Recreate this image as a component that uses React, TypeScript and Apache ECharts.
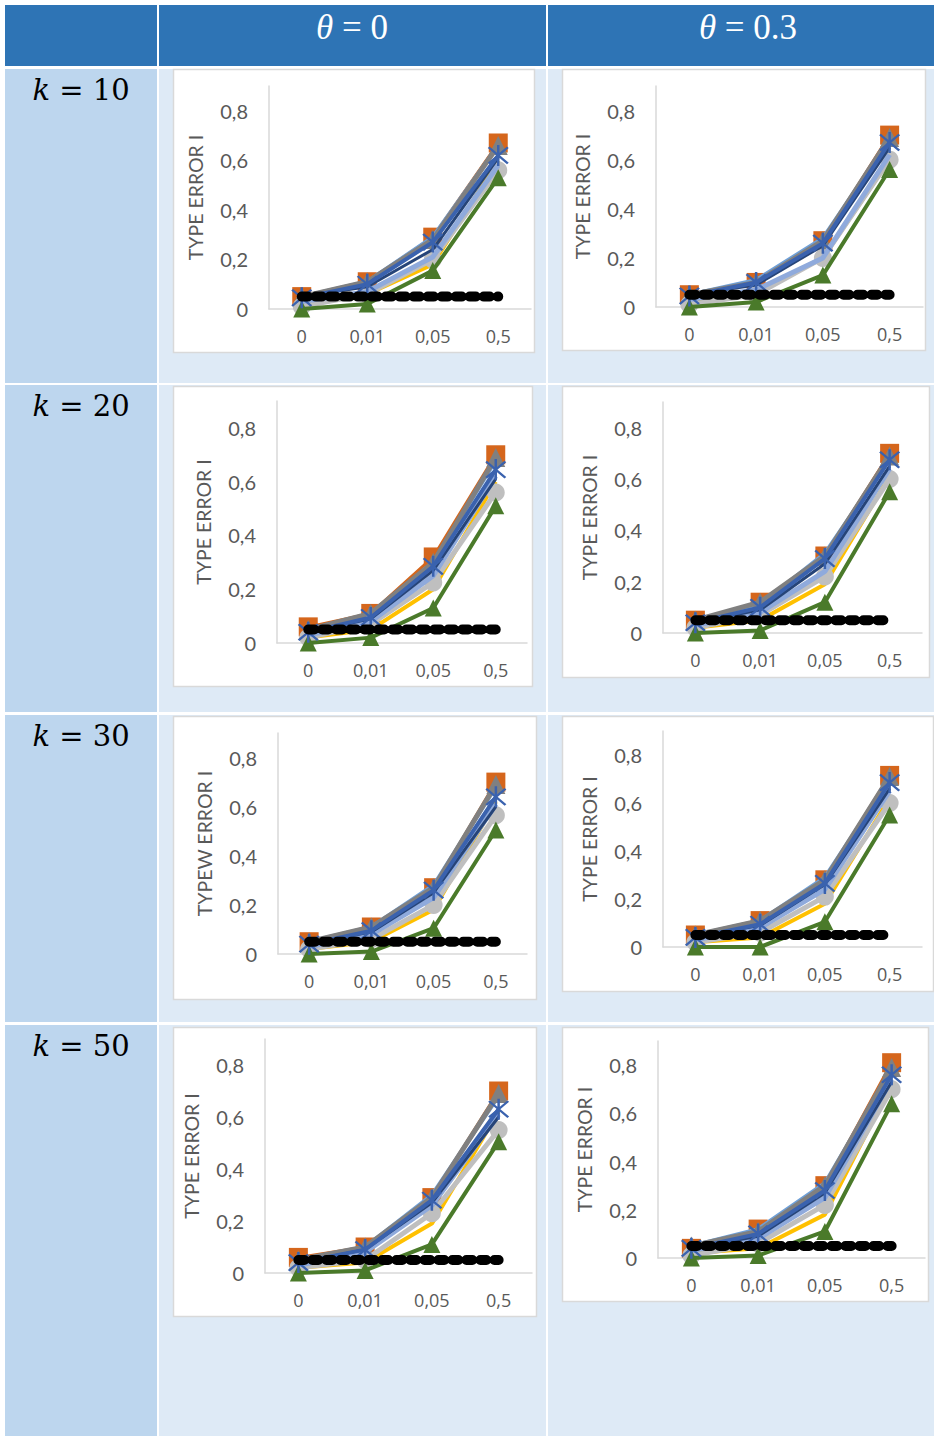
import React, { useEffect, useRef } from 'react';
import * as echarts from 'echarts';

// ---------- data ----------
const categories = ['0', '0,01', '0,05', '0,5'];
const seriesNames = ['Serie 1', 'Serie 2', 'Serie 3', 'Serie 4', 'Serie 5', 'Serie 6', 'Serie 7', 'Serie 8', 'Serie 9'];
const nominalLevel = [0.05, 0.05, 0.05, 0.05];
const thetaValues = ['0', '0.3'];
const kValues = ['10', '20', '30', '50'];
const axisTitles = ['TYPE ERROR I', 'TYPE ERROR I', 'TYPE ERROR I', 'TYPE ERROR I', 'TYPEW ERROR I', 'TYPE ERROR I', 'TYPE ERROR I', 'TYPE ERROR I'];

const k10Theta0 = [
  [0.05, 0.11, 0.29, 0.67],
  [0.05, 0.11, 0.29, 0.66],
  [0.05, 0.11, 0.28, 0.66],
  [0.02, 0.06, 0.18, 0.6],
  [0.01, 0.06, 0.2, 0.56],
  [0.03, 0.07, 0.21, 0.58],
  [0.05, 0.09, 0.24, 0.61],
  [0.0, 0.02, 0.155, 0.53],
  [0.045, 0.1, 0.27, 0.62],
];
const k10Theta03 = [
  [0.05, 0.1, 0.27, 0.7],
  [0.05, 0.11, 0.28, 0.68],
  [0.05, 0.1, 0.27, 0.69],
  [0.02, 0.06, 0.2, 0.6],
  [0.01, 0.05, 0.2, 0.6],
  [0.03, 0.07, 0.2, 0.62],
  [0.05, 0.09, 0.25, 0.65],
  [0.0, 0.02, 0.13, 0.56],
  [0.045, 0.1, 0.26, 0.67],
];
const k20Theta0 = [
  [0.06, 0.11, 0.32, 0.7],
  [0.05, 0.1, 0.3, 0.68],
  [0.05, 0.11, 0.3, 0.69],
  [0.02, 0.05, 0.2, 0.6],
  [0.02, 0.07, 0.225, 0.56],
  [0.03, 0.08, 0.25, 0.62],
  [0.04, 0.09, 0.27, 0.61],
  [0.0, 0.02, 0.13, 0.51],
  [0.04, 0.095, 0.285, 0.645],
];
const k20Theta03 = [
  [0.05, 0.12, 0.3, 0.7],
  [0.05, 0.11, 0.31, 0.68],
  [0.05, 0.12, 0.3, 0.69],
  [0.02, 0.05, 0.19, 0.61],
  [0.02, 0.07, 0.22, 0.6],
  [0.03, 0.08, 0.24, 0.64],
  [0.04, 0.09, 0.27, 0.65],
  [0.0, 0.01, 0.12, 0.55],
  [0.04, 0.1, 0.29, 0.675],
];
const k30Theta0 = [
  [0.05, 0.11, 0.27, 0.7],
  [0.05, 0.11, 0.28, 0.68],
  [0.05, 0.11, 0.27, 0.69],
  [0.02, 0.05, 0.18, 0.62],
  [0.02, 0.06, 0.2, 0.565],
  [0.03, 0.08, 0.23, 0.61],
  [0.04, 0.09, 0.25, 0.6],
  [0.0, 0.01, 0.105, 0.505],
  [0.04, 0.095, 0.26, 0.64],
];
const k30Theta03 = [
  [0.05, 0.11, 0.28, 0.715],
  [0.05, 0.11, 0.29, 0.7],
  [0.05, 0.11, 0.28, 0.71],
  [0.02, 0.04, 0.18, 0.62],
  [0.02, 0.06, 0.21, 0.6],
  [0.03, 0.08, 0.24, 0.65],
  [0.04, 0.09, 0.26, 0.66],
  [0.0, 0.0, 0.105, 0.55],
  [0.04, 0.095, 0.265, 0.685],
];
const k50Theta0 = [
  [0.06, 0.1, 0.29, 0.7],
  [0.05, 0.1, 0.3, 0.68],
  [0.05, 0.1, 0.29, 0.69],
  [0.02, 0.04, 0.19, 0.62],
  [0.02, 0.05, 0.23, 0.55],
  [0.03, 0.08, 0.26, 0.61],
  [0.04, 0.09, 0.27, 0.6],
  [0.0, 0.01, 0.11, 0.505],
  [0.04, 0.09, 0.28, 0.63],
];
const k50Theta03 = [
  [0.04, 0.12, 0.3, 0.81],
  [0.05, 0.12, 0.31, 0.78],
  [0.05, 0.11, 0.3, 0.79],
  [0.02, 0.04, 0.18, 0.72],
  [0.01, 0.06, 0.22, 0.7],
  [0.03, 0.08, 0.25, 0.74],
  [0.04, 0.09, 0.27, 0.73],
  [0.0, 0.01, 0.11, 0.64],
  [0.04, 0.1, 0.28, 0.76],
];

const panelData = [k10Theta0, k10Theta03, k20Theta0, k20Theta03, k30Theta0, k30Theta03, k50Theta0, k50Theta03];

// ---------- layout / styles ----------
const STAR = 'path://M9 0H11V20H9Z M1.6 3L3 1.6L18.4 17L17 18.4Z M17 1.6L18.4 3L3 18.4L1.6 17Z';
const seriesStyles = [
  { color: '#D5661C', width: 3, symbol: 'rect', size: 19 },
  { color: '#6FA0D8', width: 4, symbol: 'none', size: 0 },
  { color: '#808080', width: 5, symbol: 'triangle', size: 19 },
  { color: '#FFC000', width: 4, symbol: 'none', size: 0 },
  { color: '#BFBFBF', width: 5, symbol: 'circle', size: 18 },
  { color: '#8FAADC', width: 5, symbol: 'none', size: 0 },
  { color: '#264478', width: 3, symbol: 'none', size: 0 },
  { color: '#4A7A2A', width: 4, symbol: 'triangle', size: 17 },
  { color: '#3A62AE', width: 4, symbol: STAR, size: 21 },
];

const panelBoxes = [
  [173, 69, 361, 283],
  [562, 69, 363, 281],
  [173, 386, 359, 300],
  [562, 386, 367, 291],
  [173, 716, 363, 283],
  [562, 716, 371, 275],
  [173, 1027, 363, 289],
  [562, 1027, 366, 274],
];
// [left, top(y=0.9), right, bottom(y=0)]
const panelGrids = [
  [269, 86, 531, 309],
  [656, 86, 923, 307],
  [277, 401, 527, 643],
  [663, 402, 922, 633],
  [278, 733, 527, 954],
  [663, 731, 922, 947],
  [265, 1039, 532, 1273],
  [658, 1041, 925, 1258],
];

const rowBands = [
  [69, 314],
  [385, 327],
  [715, 307],
  [1025, 411],
];

function fmtY(v: number) {
  if (Math.abs(v * 5 - Math.round(v * 5)) > 1e-6) return '';
  const r = Math.round(v * 10) / 10;
  return r === 0 ? '0' : r.toFixed(1).replace('.', ',');
}

function buildOption() {
  const graphics: any[] = [];
  graphics.push({ type: 'rect', z: -10, shape: { x: 5, y: 5, width: 152, height: 61 }, style: { fill: '#2E74B5' } });
  graphics.push({ type: 'rect', z: -10, shape: { x: 159, y: 5, width: 387, height: 61 }, style: { fill: '#2E74B5' } });
  graphics.push({ type: 'rect', z: -10, shape: { x: 548, y: 5, width: 386, height: 61 }, style: { fill: '#2E74B5' } });
  thetaValues.forEach((t, i) => {
    graphics.push({
      type: 'text', z: -5, x: i === 0 ? 352 : 748, y: 27,
      style: {
        text: '{i|θ} = ' + t,
        fill: '#FFFFFF', fontSize: 35, fontFamily: 'Liberation Serif',
        align: 'center', verticalAlign: 'middle',
        rich: { i: { fontStyle: 'italic', fontSize: 35, fontFamily: 'Liberation Serif', fill: '#FFFFFF' } },
      },
    });
  });
  rowBands.forEach(([y, h], r) => {
    graphics.push({ type: 'rect', z: -10, shape: { x: 5, y, width: 152, height: h }, style: { fill: '#BDD6EE' } });
    graphics.push({ type: 'rect', z: -10, shape: { x: 159, y, width: 387, height: h }, style: { fill: '#DEEAF6' } });
    graphics.push({ type: 'rect', z: -10, shape: { x: 548, y, width: 386, height: h }, style: { fill: '#DEEAF6' } });
    graphics.push({
      type: 'text', z: -5, x: 81, y: y + 21,
      style: {
        text: '{i|k} = ' + kValues[r],
        fill: '#000000', fontSize: 29, fontFamily: 'DejaVu Serif',
        align: 'center', verticalAlign: 'middle',
        rich: { i: { fontStyle: 'italic', fontSize: 29, fontFamily: 'DejaVu Serif', fill: '#000000' } },
      },
    });
  });
  panelBoxes.forEach(([x, y, w, h]) => {
    graphics.push({ type: 'rect', z: -6, shape: { x: x + 0.5, y: y + 0.5, width: w, height: h }, style: { fill: '#FFFFFF', stroke: '#D9D9D9', lineWidth: 1.5 } });
  });

  const grid: any[] = [];
  const xAxis: any[] = [];
  const yAxis: any[] = [];
  const series: any[] = [];
  panelGrids.forEach(([l, t, r, b], p) => {
    grid.push({ left: l, top: t, width: r - l, height: b - t, containLabel: false });
    xAxis.push({
      type: 'category', gridIndex: p, data: categories, boundaryGap: true,
      axisLine: { show: true, lineStyle: { color: '#D9D9D9', width: 1.5 } },
      axisTick: { show: false },
      axisLabel: { color: '#595959', fontFamily: 'Open Sans', fontSize: 18, margin: 18, interval: 0 },
      splitLine: { show: false },
    });
    yAxis.push({
      type: 'value', gridIndex: p, min: 0, max: 0.9, interval: 0.2,
      name: axisTitles[p], nameLocation: 'middle', nameGap: 64, nameRotate: 90,
      nameTextStyle: { color: '#595959', fontFamily: 'Lato', fontSize: 19.5 },
      axisLine: { show: true, lineStyle: { color: '#D9D9D9', width: 1.5 } },
      axisTick: { show: false },
      splitLine: { show: false },
      axisLabel: { color: '#595959', fontFamily: 'Lato', fontSize: 20, margin: 21, formatter: fmtY, showMaxLabel: false },
    });
    panelData[p].forEach((vals, s) => {
      const st = seriesStyles[s];
      series.push({
        type: 'line', name: seriesNames[s], xAxisIndex: p, yAxisIndex: p, data: vals,
        symbol: st.symbol, symbolSize: st.size, showSymbol: st.symbol !== 'none',
        clip: false, z: 2 + s * 0.01,
        lineStyle: { color: st.color, width: st.width },
        itemStyle: { color: st.color, borderColor: st.color, borderWidth: 0 },
      });
    });
    series.push({
      type: 'line', name: 'Nominal', xAxisIndex: p, yAxisIndex: p, data: nominalLevel,
      symbol: 'none', showSymbol: false, clip: false, z: 3,
      lineStyle: { color: '#000000', width: 10, type: [6, 8], cap: 'round' },
    });
  });

  return {
    animation: false,
    backgroundColor: '#FFFFFF',
    graphic: { elements: graphics },
    grid, xAxis, yAxis, series,
  };
}

export default function App() {
  const ref = useRef<HTMLDivElement>(null);
  useEffect(() => {
    if (!ref.current) return;
    const chart = echarts.init(ref.current, undefined, { renderer: 'svg' });
    chart.setOption(buildOption() as any);
    return () => chart.dispose();
  }, []);
  return <div ref={ref} style={{ position: 'absolute', left: 0, top: 0, width: 934, height: 1436 }} />;
}
